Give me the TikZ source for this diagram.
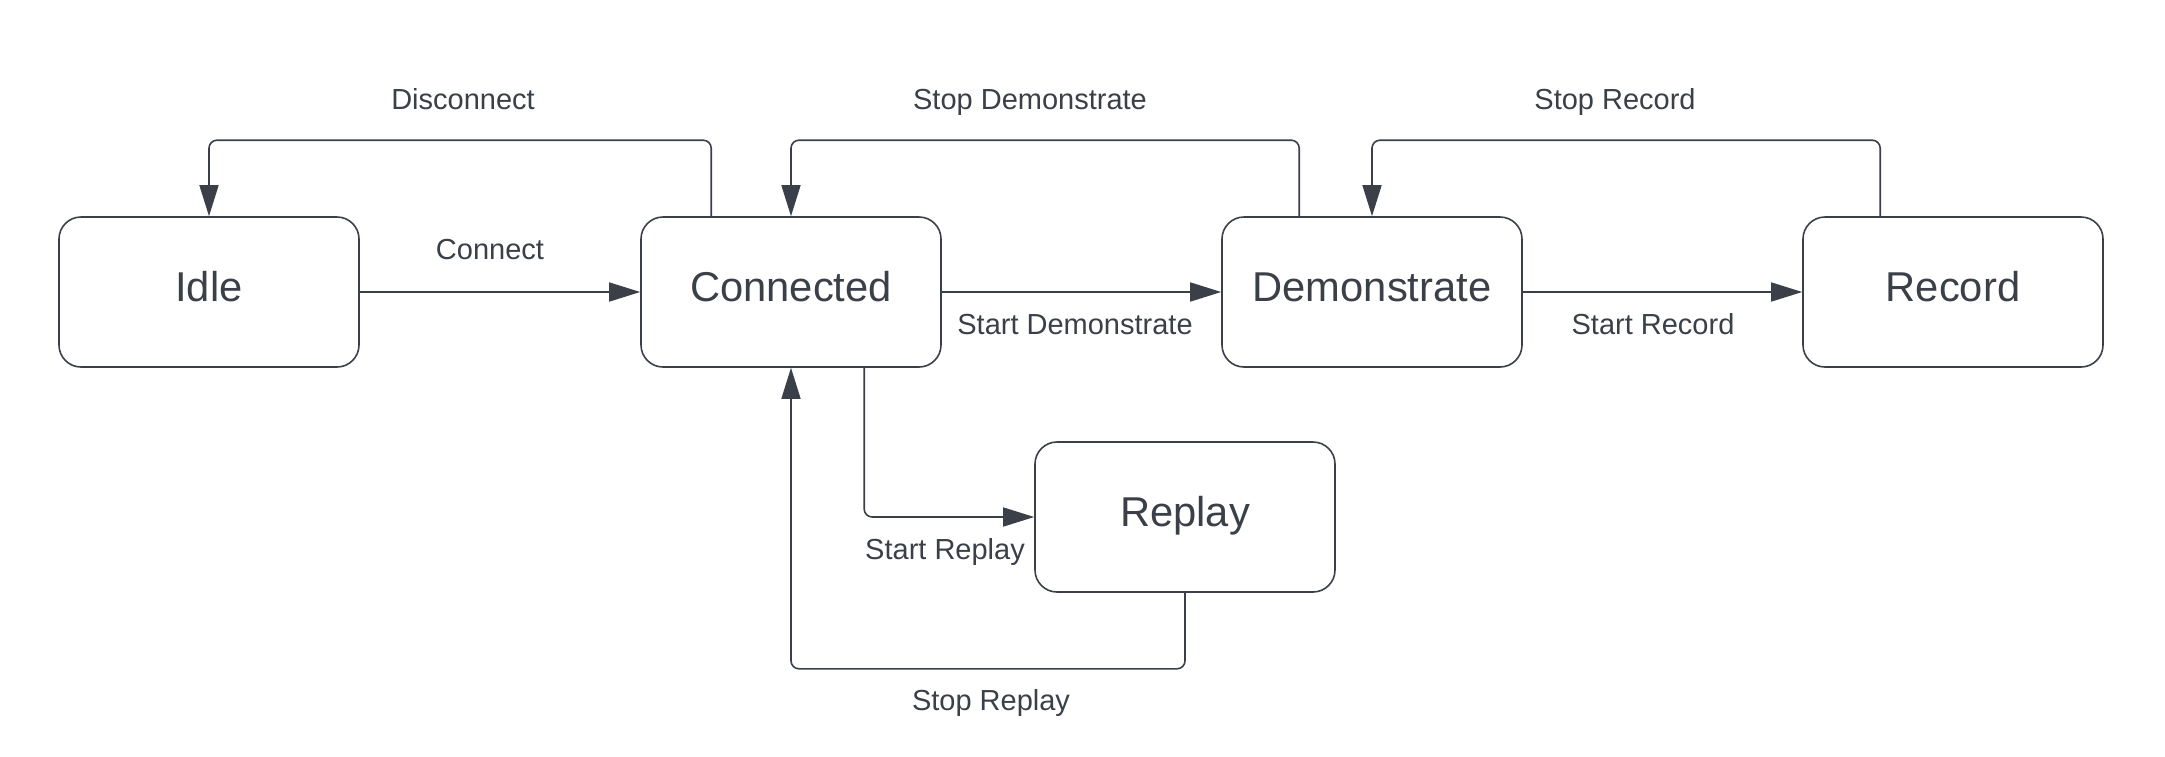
\documentclass[tikz,border=0pt]{standalone}
\usepackage{fontspec}
\setmainfont{Liberation Sans}
\usetikzlibrary{arrows.meta}
\definecolor{ink}{HTML}{3A3F48}
\tikzset{
  state/.style={draw=ink, line width=1.6pt, rounded corners=22pt, minimum width=300pt, minimum height=150pt, text=ink, font=\fontsize{41.7}{48}\selectfont, inner sep=0pt, text height=30pt, text depth=11.7pt},
  lbl/.style={text=ink, font=\fontsize{29}{34}\selectfont, inner sep=0pt, text height=20.8pt, text depth=0pt},
  arr/.style={draw=ink, line width=1.6pt, rounded corners=8pt, -{Triangle[length=31pt,width=19pt]}},
}
\begin{document}
\begin{tikzpicture}[x=1pt,y=-1pt]
\useasboundingbox (0,0) rectangle (2165,756);
\node[state] (idle) at (209,292) {Idle};
\node[state] (conn) at (791,292) {Connected};
\node[state] (demo) at (1372,292) {Demonstrate};
\node[state] (rec) at (1953,292) {Record};
\node[state] (replay) at (1185,517) {Replay};

\draw[arr] (idle.east) -- (conn.west);
\draw[arr] (conn.east) -- (demo.west);
\draw[arr] (demo.east) -- (rec.west);

\draw[arr] ([xshift=71pt]conn.north west) -- ++(0,-76) -| (idle.north);
\draw[arr] ([xshift=78pt]demo.north west) -- ++(0,-76) -| (conn.north);
\draw[arr] ([xshift=78pt]rec.north west) -- ++(0,-76) -| (demo.north);

\draw[arr] ([xshift=224pt]conn.south west) |- (replay.west);
\draw[arr] (replay.south) -- ++(0,76) -| (conn.south);

\node[lbl] (lconnect) at (490,249) {Connect};
\node[lbl] (ldisc) at (463,99) {Disconnect};
\node[lbl] (lstopdemo) at (1030,99) {Stop Demonstrate};
\node[lbl] (lstoprec) at (1615,99) {Stop Record};
\node[lbl] (lstartdemo) at (1075,324) {Start Demonstrate};
\node[lbl] (lstartrec) at (1653,324) {Start Record};
\node[lbl] (lstartrep) at (945,549) {Start Replay};
\node[lbl] (lstoprep) at (991,700) {Stop Replay};
\end{tikzpicture}
\end{document}
